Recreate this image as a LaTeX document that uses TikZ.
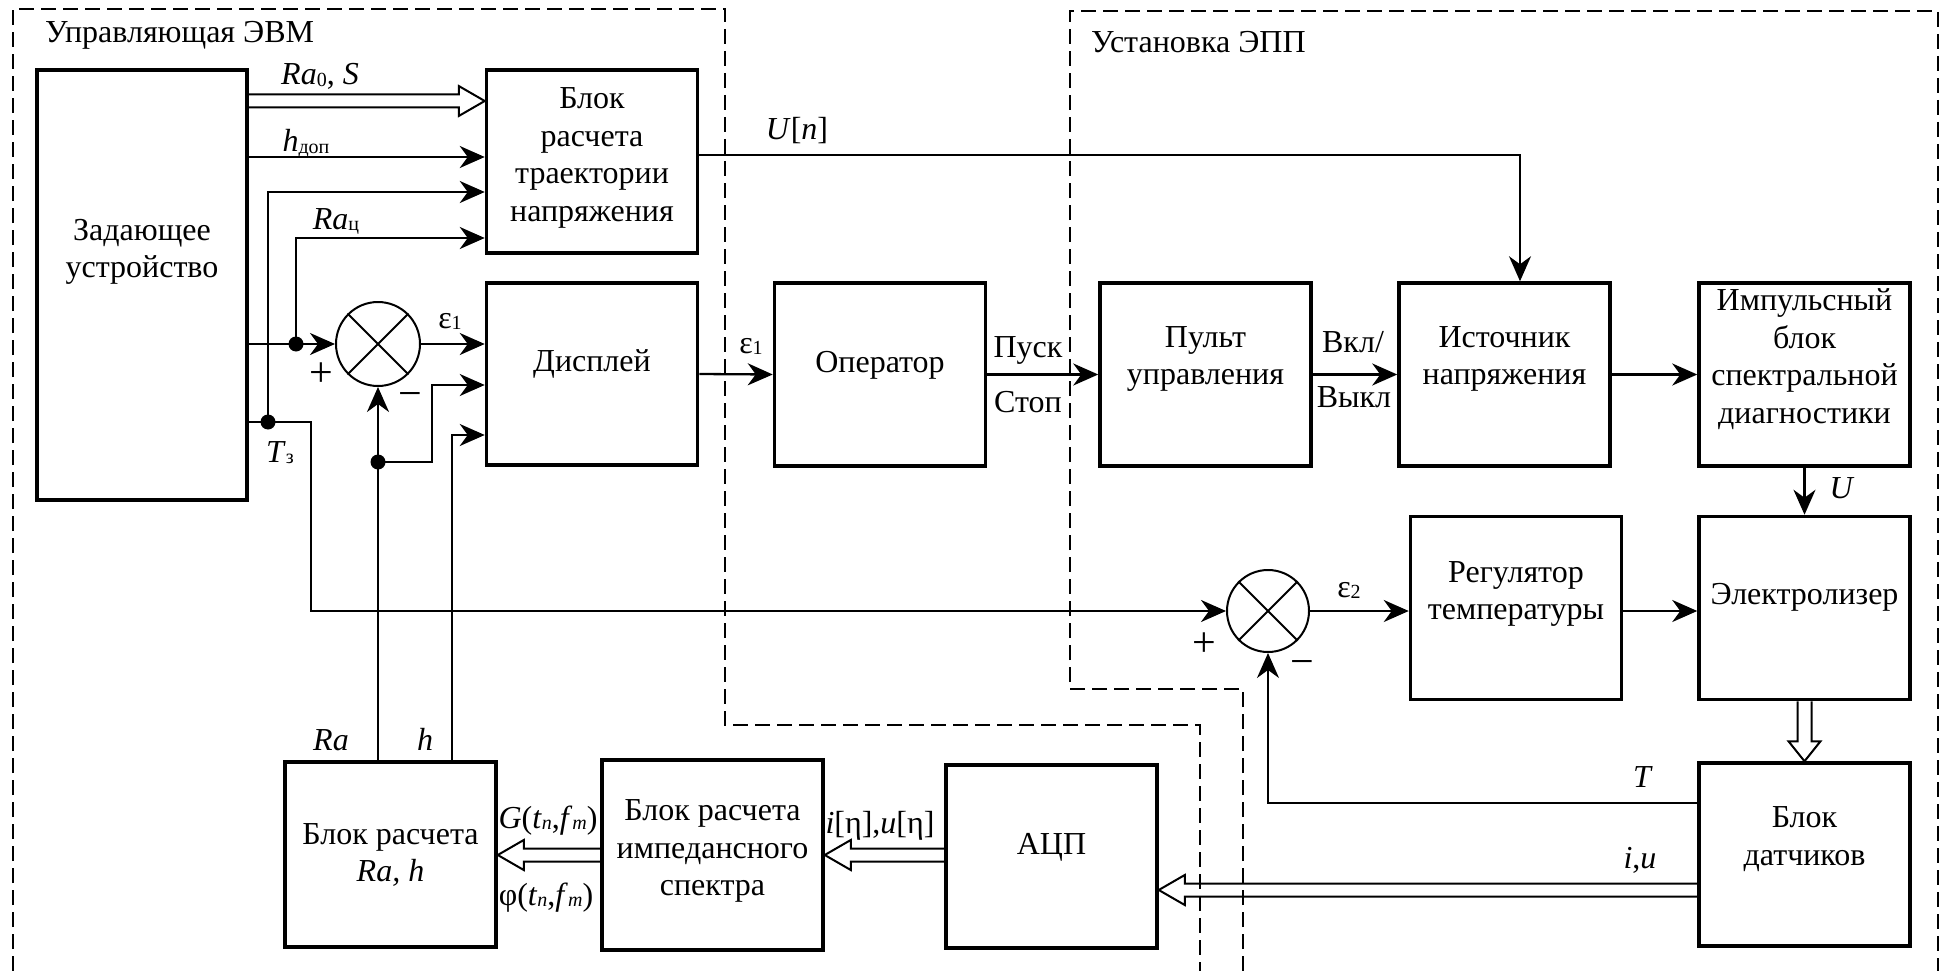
\documentclass[tikz,border=0pt]{standalone}
\usepackage{fontspec}
\setmainfont{Liberation Serif}
\usetikzlibrary{arrows.meta,calc}
\newcommand\lowsub[1]{\raisebox{-1.5pt}{\fontsize{20}{20}\selectfont #1}}
\newcommand\hollowR[2]{\draw[hol] ($(#1)+(0,-6.5)$) -- ($(#2)+(-26,-6.5)$) -- ($(#2)+(-26,-15)$) -- (#2) -- ($(#2)+(-26,15)$) -- ($(#2)+(-26,6.5)$) -- ($(#1)+(0,6.5)$);}
\newcommand\hollowL[2]{\draw[hol] ($(#1)+(0,-6.5)$) -- ($(#2)+(26,-6.5)$) -- ($(#2)+(26,-15)$) -- (#2) -- ($(#2)+(26,15)$) -- ($(#2)+(26,6.5)$) -- ($(#1)+(0,6.5)$);}
\newcommand\hollowD[2]{\draw[hol] ($(#1)+(-7,0)$) -- ($(#2)+(-7,-20)$) -- ($(#2)+(-16,-20)$) -- (#2) -- ($(#2)+(16,-20)$) -- ($(#2)+(7,-20)$) -- ($(#1)+(7,0)$);}
\tikzset{
  blk/.style={draw, line width=3.5pt, minimum width=211pt, minimum height=183pt, inner sep=0pt},
  txt/.style={align=center, font=\fontsize{32}{37.5}\selectfont, inner sep=0pt},
  lab/.style={font=\fontsize{32}{36}\selectfont, inner sep=0pt},
  sgn/.style={font=\fontsize{42}{42}\selectfont, inner sep=0pt},
  con/.style={line width=2.3pt, -{Stealth[length=25pt,width=22pt,inset=8pt]}},
  hol/.style={line width=2pt, line join=miter},
  frame/.style={line width=2pt, dash pattern=on 15pt off 7pt},
  sumc/.style={draw, circle, line width=2pt, minimum size=84pt, inner sep=0pt},
  jdot/.style={circle, fill, minimum size=15pt, inner sep=0pt},
}
\begin{document}
\begin{tikzpicture}[x=1pt,y=-1pt]
\useasboundingbox (0,0) rectangle (1944,971);
% frames
\draw[frame] (13,971) -- (13,9) -- (725,9) -- (725,725) -- (1200,725) -- (1200,971);
\draw[frame] (1243,971) -- (1243,689) -- (1070,689) -- (1070,11) -- (1938,11) -- (1938,971);
\node[lab, anchor=base west] (t1) at (45,43) {Управляющая ЭВМ};
\node[lab, anchor=base west] (t2) at (1091,53) {Установка ЭПП};
% blocks
\node[blk, minimum width=210pt, minimum height=430pt] (zad) at (142,285) {};
\node[txt] (zadt) at (142,252) {Задающее\\устройство};
\node[blk] (traj) at (592,161.5) {};
\node[txt] (trajt) at (592,158) {Блок\\расчета\\траектории\\напряжения};
\node[blk, minimum height=182pt] (disp) at (592,374) {};
\node[txt] (dispt) at (592,364) {Дисплей};
\node[blk] (oper) at (880,374.5) {};
\node[txt] (opert) at (880,365) {Оператор};
\node[blk] (pult) at (1205.5,374.5) {};
\node[txt] (pultt) at (1205.5,359) {Пульт\\управления};
\node[blk] (ist) at (1504.5,374.5) {};
\node[txt] (istt) at (1504.5,359) {Источник\\напряжения};
\node[blk] (imp) at (1804.5,374.5) {};
\node[txt] (impt) at (1804.5,359) {Импульсный\\блок\\спектральной\\диагностики};
\node[blk] (reg) at (1516,608) {};
\node[txt] (regt) at (1516,594) {Регулятор\\температуры};
\node[blk] (elec) at (1804.5,608) {};
\node[txt] (elect) at (1804.5,597) {Электролизер};
\node[blk] (dat) at (1804.5,854.5) {};
\node[txt] (datt) at (1804.5,839) {Блок\\датчиков};
\node[blk] (adc) at (1051.5,856.5) {};
\node[txt] (adct) at (1051.5,847) {АЦП};
\node[blk, minimum width=221pt, minimum height=190pt] (imped) at (712.5,855) {};
\node[txt] (impedt) at (712.5,851) {Блок расчета\\импедансного\\спектра};
\node[blk, minimum height=185pt] (rah) at (390.5,854.5) {};
\node[txt] (raht) at (390.5,855) {Блок расчета\\\textit{Ra, h}};
% summing junctions
\node[sumc] (s1) at (378,344) {};
\draw[line width=1.8pt] (s1.45) -- (s1.225) (s1.135) -- (s1.-45);
\node[sumc, minimum size=82pt] (s2) at (1268,611) {};
\draw[line width=1.8pt] (s2.45) -- (s2.225) (s2.135) -- (s2.-45);
% level coordinates
\coordinate (L1) at (0,101);
\coordinate (L2) at (0,157);
\coordinate (L3) at (0,192);
\coordinate (L4) at (0,238);
\coordinate (j1) at (296,344);
\coordinate (j2) at (268,422);
\coordinate (j3) at (378,462);
\coordinate (b1) at (311,422);
\coordinate (b2) at (311,611);
\coordinate (k1) at (432,385);
\coordinate (k2) at (452,435);
\coordinate (un) at (1520,155);
\coordinate (tf) at (1268,803);
\coordinate (iu) at (0,890);
\coordinate (hA) at (0,855);
% connectors in EVM
\hollowR{zad.east|-L1}{traj.west|-L1}
\draw[con] (zad.east|-L2) -- (traj.west|-L2);
\draw[con] (j2) |- (traj.west|-L3);
\draw[con] (j1) |- (traj.west|-L4);
\draw[con] (zad.east|-s1.west) -- (s1.west);
\draw[con] (s1.east) -- (s1.east-|disp.west);
\draw[con] (rah.north-|s1.south) -- (s1.south);
\draw[con] (j3) -| (k1) -- (k1-|disp.west);
\draw[con] (rah.north-|k2) -- (k2) -- (k2-|disp.west);
\draw[con] (zad.east|-j2) -- (b1) -- (b2) -- (s2.west);
\node[jdot] (d1) at (j1) {};
\node[jdot] (d2) at (j2) {};
\node[jdot] (d3) at (j3) {};
% main chain
\draw[con] (disp.east) -- (oper.west);
\draw[con] (oper.east) -- (pult.west);
\draw[con] (pult.east) -- (ist.west);
\draw[con] (ist.east) -- (imp.west);
\draw[con, line width=1.7pt] (traj.east|-un) -- (un) -- (un|-ist.north);
\draw[con] (imp.south) -- (elec.north);
\draw[con] (s2.east) -- (s2.east-|reg.west);
\draw[con] (reg.east|-s2.east) -- (elec.west|-s2.east);
\hollowD{elec.south}{dat.north}
\draw[con, line width=1.7pt] (dat.west|-tf) -- (tf) -- (s2.south);
\hollowL{dat.west|-iu}{adc.east|-iu}
\hollowL{adc.west|-hA}{imped.east|-hA}
\hollowL{imped.west|-hA}{rah.east|-hA}
% labels
\node[lab, anchor=base] (lRa0) at (320,85) {\textit{Ra}\lowsub{0}, \textit{S}};
\node[lab, anchor=base] (lhdop) at (306,152) {\textit{h}\lowsub{доп}};
\node[lab, anchor=base] (lRac) at (336,229) {\textit{Ra}\lowsub{ц}};
\node[lab, anchor=base] (le1a) at (450,328) {ε\lowsub{1}};
\node[sgn] (lp1) at (321,375) {+};
\node[sgn] (lm1) at (410,400) {−};
\node[lab, anchor=base] (lTz) at (280,462) {\textit{T}\lowsub{з}};
\node[lab, anchor=base] (lUn) at (797,140) {\textit{U}[\textit{n}]};
\node[lab, anchor=base] (le1b) at (751,353) {ε\lowsub{1}};
\node[lab, anchor=base] (lpusk) at (1028,357) {Пуск};
\node[lab, anchor=base] (lstop) at (1028,412) {Стоп};
\node[lab, anchor=base] (lvkl) at (1353,352) {Вкл/};
\node[lab, anchor=base] (lvykl) at (1354,407) {Выкл};
\node[lab, anchor=base] (lU) at (1842,498) {\textit{U}};
\node[lab, anchor=base] (le2) at (1349,597) {ε\lowsub{2}};
\node[sgn] (lp2) at (1204,645) {+};
\node[sgn] (lm2) at (1302,668) {−};
\node[lab, anchor=base] (lT) at (1643,787) {\textit{T}};
\node[lab, anchor=base] (liu) at (1640,868) {\textit{i},\textit{u}};
\node[lab, anchor=base] (lieta) at (880,833) {\textit{i}[η],\textit{u}[η]};
\node[lab, anchor=base] (lG) at (548,828) {\textit{G}(\textit{t}\lowsub{\textit{n}},\textit{f}\lowsub{\textit{m}})};
\node[lab, anchor=base] (lphi) at (546,905) {φ(\textit{t}\lowsub{\textit{n}},\textit{f}\lowsub{\textit{m}})};
\node[lab, anchor=base] (lRa) at (331,750) {\textit{Ra}};
\node[lab, anchor=base] (lh) at (425,750) {\textit{h}};
\end{tikzpicture}
\end{document}
